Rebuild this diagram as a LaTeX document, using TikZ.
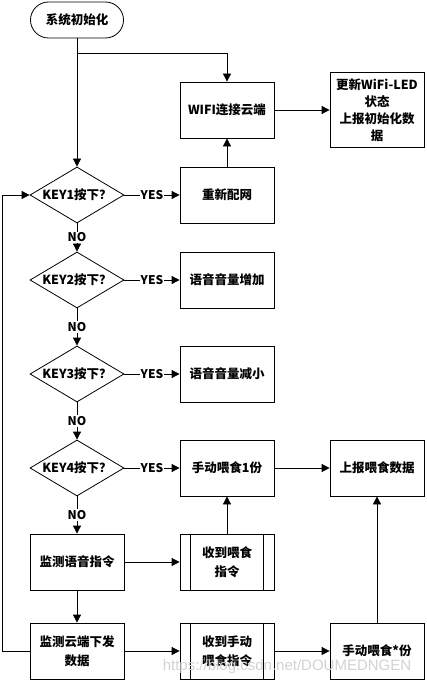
\documentclass[tikz,border=0pt]{standalone}
\usepackage{fontspec}
\setmainfont{Noto Sans CJK SC}
\newfontfamily\wmfont{Liberation Sans}
\usetikzlibrary{shapes.geometric,arrows.meta,calc}
\begin{document}
\begin{tikzpicture}[x=1pt,y=-1pt,
  every node/.style={font=\fontsize{12.5}{15}\selectfont\bfseries},
  box/.style={draw,line width=0.8pt,minimum width=94pt,minimum height=56pt,inner sep=2pt,align=center},
  ppbox/.style={box},
  dec/.style={draw,line width=0.8pt,diamond,minimum width=94pt,minimum height=56pt,inner sep=0pt},
  arr/.style={line width=0.8pt,-{Triangle[length=8pt,width=8pt]}},
  lab/.style={fill=white,inner sep=1pt,font=\fontsize{12}{14}\selectfont\bfseries}
]
\useasboundingbox (0,0) rectangle (426,682);

% nodes
\node[draw,line width=0.8pt,rounded corners=18pt,minimum width=93pt,minimum height=36pt] (start) at (77,20) {系统初始化};
\node[box] (wifi) at (227,110) {WIFI连接云端};
\node[box,minimum height=75pt,font=\fontsize{12.5}{17}\selectfont\bfseries] (led) at (377,110) {更新WiFi-LED\\状态\\上报初始化数\\据};
\node[box] (reset) at (227,195) {重新配网};
\node[dec] (k1) at (77,195) {\makebox[0pt]{KEY1按下？}};
\node[dec] (k2) at (77,280) {\makebox[0pt]{KEY2按下？}};
\node[box] (volup) at (227,280) {语音音量增加};
\node[dec] (k3) at (77,374) {\makebox[0pt]{KEY3按下？}};
\node[box] (voldn) at (227,374) {语音音量减小};
\node[dec] (k4) at (77,468) {\makebox[0pt]{KEY4按下？}};
\node[box] (feed1) at (227,468) {手动喂食1份};
\node[box] (report) at (377,468) {上报喂食数据};
\node[box] (voice) at (77,562) {监测语音指令};
\node[ppbox,font=\fontsize{12.5}{19}\selectfont\bfseries] (recvfeed) at (227,562) {收到喂食\\指令};
\node[box,font=\fontsize{12.5}{19}\selectfont\bfseries] (cloud) at (77,651) {监测云端下发\\数据};
\node[ppbox,font=\fontsize{12.5}{19}\selectfont\bfseries] (recvman) at (227,651) {收到手动\\喂食指令};
\node[box] (feedn) at (377,651) {手动喂食*份};

% predefined-process side bars
\foreach \n in {recvfeed,recvman}{
  \draw[line width=0.8pt] ($(\n.north west)+(11,0)$) -- ($(\n.south west)+(11,0)$);
  \draw[line width=0.8pt] ($(\n.north east)+(-11,0)$) -- ($(\n.south east)+(-11,0)$);
}

% connectors
\coordinate (br) at (77,53);
\draw[arr] (start) -- (k1);
\draw[arr] (br) -| (wifi.north);
\draw[arr] (wifi) -- (led);
\draw[arr] (reset) -- (wifi);
\draw[arr] (k1) -- node[lab]{YES} (reset);
\draw[arr] (k1) -- node[lab]{NO} (k2);
\draw[arr] (k2) -- node[lab]{YES} (volup);
\draw[arr] (k2) -- node[lab]{NO} (k3);
\draw[arr] (k3) -- node[lab]{YES} (voldn);
\draw[arr] (k3) -- node[lab]{NO} (k4);
\draw[arr] (k4) -- node[lab]{YES} (feed1);
\draw[arr] (k4) -- node[lab]{NO} (voice);
\draw[arr] (voice) -- (recvfeed);
\draw[arr] (recvfeed) -- (feed1);
\draw[arr] (feed1) -- (report);
\draw[arr] (voice) -- (cloud);
\draw[arr] (cloud) -- (recvman);
\draw[arr] (recvman) -- (feedn);
\draw[arr] (feedn) -- (report);
\draw[arr] (cloud.west) -- ++(-27,0) |- (k1.west);

% watermark
\node[font=\wmfont\fontsize{15}{18}\selectfont,text=gray!35,anchor=base] (wm) at (287,670) {https://blog.csdn.net/DOUMEDNGEN};
\end{tikzpicture}
\end{document}
